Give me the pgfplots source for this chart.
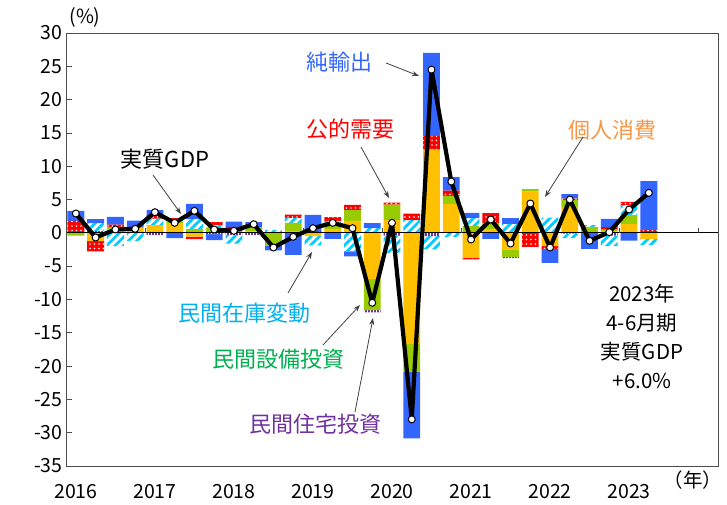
\documentclass[border=0pt]{standalone}
\usepackage{fontspec}
\setmainfont{Noto Sans CJK JP}
\usepackage{pgfplots}
\pgfplotsset{compat=1.18}
\usepackage{pgfplotstable}
\usetikzlibrary{patterns.meta,arrows.meta}

\definecolor{cCons}{RGB}{255,192,0}
\definecolor{cCapex}{RGB}{153,204,0}
\definecolor{cHouse}{RGB}{112,48,160}
\definecolor{cInv}{RGB}{0,204,255}
\definecolor{cPub}{RGB}{255,0,0}
\definecolor{cNX}{RGB}{51,102,255}
\definecolor{tNX}{RGB}{51,102,255}
\definecolor{tCons}{RGB}{247,150,70}
\definecolor{tInv}{RGB}{0,176,240}
\definecolor{tCapex}{RGB}{0,176,80}
\definecolor{tHouse}{RGB}{112,48,160}

% quarter index, contributions (annualised, %pt) and real GDP growth
\pgfplotstableread{
x  cons   capex  house  inv    pub    nx     gdp
0  0      -0.4   0      0      1.8    1.5    2.9
1  -1.25  0      0.25   1.2    -1.55  0.6    -0.7
2  0.6    0.3    0      -2.0   0.35   1.15   0.5
3  0.75   0.1    0      -1.25  0      1.0    0.6
4  1.15   0      -0.35  1.0    0.5    0.75   3.1
5  1.5    0.2    0      0.4    0.1    -0.8   1.5
6  -0.55  0.55   0      1.5    -0.4   2.3    3.3
7  0      0.8    -0.2   0.4    0.4    -0.9   0.5
8  0.2    0      -0.3   -1.3   0.7    0.8    0.3
9  0.2    0.65   -0.3   0      0      0.75   1.3
10 0      -1.95  0      0.45   0      -0.7   -2.2
11 0.3    1.2    0      0.75   0.5    -3.3   -0.6
12 -0.5   0      0      -1.4   0.3    2.4    0.7
13 0.6    0.5    0      0.65   0.6    -0.9   1.5
14 1.8    1.6    0      -2.8   0.8    -0.75  0.7
15 -6.9   -4.7   -0.35  0.7    0      0.75   -10.5
16 1.9    2.35   -0.4   -2.6   0.3    0      1.5
17 -16.7  -4.15  0      1.9    1.0    -10.0  -28.0
18 12.5   0      -0.5   -2.0   2.0    12.5   24.5
19 4.35   1.2    0      -0.6   0.8    2.0    7.7
20 -3.75  1.0    0      1.2    -0.25  0.8    -1.0
21 0.6    0.9    0      0      1.45   -0.9   2.0
22 -2.5   -1.1   -0.2   1.35   0      0.85   -1.6
23 6.2    0.35   0      0      -2.1   0      4.4
24 -2.0   0      0      2.3    -0.4   -2.1   -2.2
25 3.9    1.0    -0.1   -0.7   0.25   0.65   5.0
26 0      0.9    0      0.25   0      -2.4   -1.2
27 0.3    0.2    -0.4   -1.6   0.35   1.25   0.1
28 1.3    1.35   0      1.5    0.5    -1.15  3.5
29 -0.9   0      0      -0.95  0.4    7.35   6.0
}\data

\pgfplotsset{
  base/.style={scale only axis, width=652pt, height=433pt,
    xmin=-0.5, xmax=32.5, ymin=-35, ymax=30, enlargelimits=false,
    at={(0pt,0pt)}, anchor=south west},
  sCons/.style={fill=cCons, draw=none},
  sCapex/.style={fill=cCapex, draw=none},
  sHouse/.style={draw=none, preaction={fill=white}, pattern={Lines[angle=90,distance=3pt,line width=1.2pt]}, pattern color=cHouse},
  sInv/.style={draw=none, pattern={Lines[angle=45,distance=6pt,line width=2.8pt]}, pattern color=cInv},
  sPub/.style={fill=cPub, draw=none, postaction={pattern color=white, pattern={Dots[distance=4.5pt,radius=0.9pt]}}},
  sNX/.style={fill=cNX, draw=none},
}

\begin{document}
\begin{tikzpicture}[x=1pt,y=1pt]
\useasboundingbox (-66,-39) rectangle (661,466);

% positive contributions + frame
\begin{axis}[base, ybar stacked, bar width=0.85,
  axis line style={black!70, line width=0.8pt},
  ytick={-35,-30,...,30},
  yticklabels={-35,-30,-25,-20,-15,-10,-5,0,5,10,15,20,25,30},
  ytick pos=left, tick align=inside, major tick length=6pt,
  tick style={black!70, line width=0.8pt},
  xtick={0,4,...,28},
  xticklabels={2016,2017,2018,2019,2020,2021,2022,2023},
  major x tick style=transparent,
  tick label style={font=\fontsize{19.5}{20}\selectfont},
  xticklabel style={anchor=center, yshift=-26pt},
]
\addplot[sCons]  table[x=x, y expr={max(\thisrow{cons},0)}] {\data};
\addplot[sCapex] table[x=x, y expr={max(\thisrow{capex},0)}] {\data};
\addplot[sHouse] table[x=x, y expr={max(\thisrow{house},0)}] {\data};
\addplot[sInv]   table[x=x, y expr={max(\thisrow{inv},0)}] {\data};
\addplot[sPub]   table[x=x, y expr={max(\thisrow{pub},0)}] {\data};
\addplot[sNX]    table[x=x, y expr={max(\thisrow{nx},0)}] {\data};
\end{axis}

% negative contributions
\begin{axis}[base, hide axis, ybar stacked, bar width=0.85]
\addplot[sCons]  table[x=x, y expr={min(\thisrow{cons},0)}] {\data};
\addplot[sCapex] table[x=x, y expr={min(\thisrow{capex},0)}] {\data};
\addplot[sHouse] table[x=x, y expr={min(\thisrow{house},0)}] {\data};
\addplot[sInv]   table[x=x, y expr={min(\thisrow{inv},0)}] {\data};
\addplot[sPub]   table[x=x, y expr={min(\thisrow{pub},0)}] {\data};
\addplot[sNX]    table[x=x, y expr={min(\thisrow{nx},0)}] {\data};
\end{axis}

% zero axis and GDP line
\begin{axis}[base, hide axis, clip=false]
\draw[black, line width=0.9pt] (axis cs:-0.5,0) -- (axis cs:32.5,0);
\pgfplotsinvokeforeach{0,...,8}{
  \draw[black!70, line width=0.8pt] (axis cs:{-0.5+4*#1},0) -- ++(0pt,5pt);
}
\addplot[black, line width=4.2pt, line join=round, mark=*, mark size=3.5pt,
  mark options={fill=white, draw=black, line width=1pt}]
  table[x=x, y=gdp] {\data};
\end{axis}

% annotations
\tikzset{arr/.style={black!75, line width=0.8pt, -{Stealth[length=7pt,width=5pt]}}}
\begin{scope}[font=\fontsize{22}{24}\selectfont]
\node[text=tNX] at (273,404) {純輸出};
\draw[arr] (320,403) -- (353,390);
\node[text=cPub] at (284,337) {公的需要};
\draw[arr] (295,319) -- (323,268);
\node[text=tCons] at (546,336) {個人消費};
\draw[arr] (517,329) -- (479,269);
\node[text=black] at (99,307) {実質GDP};
\draw[arr] (87,291) -- (115,252);
\node[text=tInv] at (178,153) {民間在庫変動};
\draw[arr] (222,173) -- (246,214);
\node[text=tCapex] at (212,107) {民間設備投資};
\draw[arr] (257,121) -- (294,161);
\node[text=tHouse] at (249,42) {民間住宅投資};
\draw[arr] (289,54) -- (307,148);
\end{scope}

\node[font=\fontsize{20.5}{29}\selectfont, align=center] at (576,130)
  {2023年\\4-6月期\\実質GDP\\+6.0\%};
\node[font=\fontsize{19.5}{20}\selectfont] at (19,449) {(\%)};
\node[font=\fontsize{19.5}{20}\selectfont] at (627,-14) {（年）};
\end{tikzpicture}
\end{document}
